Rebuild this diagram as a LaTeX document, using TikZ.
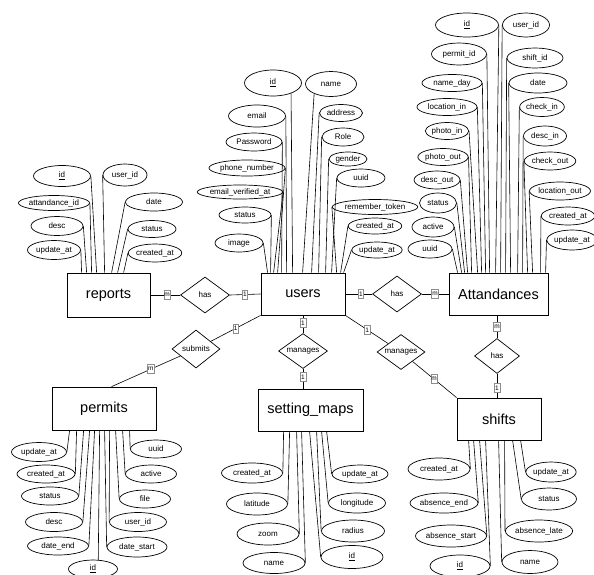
\documentclass[tikz,border=0pt]{standalone}
\usepackage{fontspec}
\setmainfont{Liberation Sans}
\usetikzlibrary{shapes.geometric}
\tikzset{
 attrib/.style={ellipse, draw, line width=0.7pt, inner sep=0pt, fill=white, font=\fontsize{8}{9}\selectfont},
 entity/.style={rectangle, draw, line width=0.8pt, inner sep=0pt, fill=white, font=\fontsize{14.5}{16}\selectfont},
 rel/.style={diamond, draw, line width=0.7pt, inner sep=0pt, shape aspect=1.4, fill=white, font=\fontsize{8}{9}\selectfont},
 conn/.style={line width=0.6pt},
 card/.style={draw=black!45, fill=white, line width=0.4pt, inner sep=0.6pt, minimum width=5.5pt, minimum height=9pt, font=\fontsize{6.5}{6.5}\selectfont}
}
\newcommand{\att}[6]{\node[attrib,minimum width=#4pt,minimum height=#5pt] (#1) at (#2,#3) {#6};}
\newcommand{\lk}[3]{\draw[conn] (#1) -- ([xshift=#3pt]#2);}
\begin{document}
\begin{tikzpicture}[x=1pt,y=-1pt]
\useasboundingbox (0,0) rectangle (594,574);
\clip (0,0) rectangle (594,574);
\fill[white] (0,0) rectangle (594,574);

% entities
\node[entity, minimum width=84pt, minimum height=42pt] (users) at (303,294) {users};
\node[entity, minimum width=83pt, minimum height=44pt] (reports) at (108.5,295) {reports};
\node[entity, minimum width=99pt, minimum height=42pt] (att) at (498.5,294) {Attandances};
\node[entity, minimum width=104pt, minimum height=43pt] (permits) at (104,408.5) {permits};
\node[entity, minimum width=105pt, minimum height=42pt] (maps) at (310.5,410) {setting\_maps};
\node[entity, minimum width=84pt, minimum height=42pt] (shifts) at (499,419) {shifts};

% relationships
\node[rel, minimum width=49pt, minimum height=36pt] (hasL) at (205,295) {has};
\node[rel, minimum width=49pt, minimum height=36pt] (hasR) at (397,294) {has};
\node[rel, minimum width=48pt, minimum height=38pt] (submits) at (196,349) {submits};
\node[rel, minimum width=49pt, minimum height=35pt] (man1) at (303,351) {manages};
\node[rel, minimum width=48pt, minimum height=35pt] (man2) at (401,352) {manages};
\node[rel, minimum width=45pt, minimum height=35pt] (hasV) at (497,356) {has};

% reports attributes
\att{r_id}{62}{176}{57}{21}{\underline{id}}
\att{r_att}{54}{203}{65}{15}{attandance\_id}
\att{r_desc}{57}{226}{52}{19}{desc}
\att{r_upd}{54}{250}{53}{19}{update\_at}
\att{r_uid}{125}{175}{44}{22}{user\_id}
\att{r_date}{154}{202}{57}{18}{date}
\att{r_status}{152}{229}{48}{17}{status}
\att{r_created}{155}{253}{51}{18}{created\_at}
\lk{r_id.east}{reports.north west}{30}
\lk{r_att.east}{reports.north west}{25}
\lk{r_desc.east}{reports.north west}{20}
\lk{r_upd.east}{reports.north west}{15}
\lk{r_uid.west}{reports.north west}{38}
\lk{r_date.west}{reports.north west}{45}
\lk{r_status.west}{reports.north west}{51}
\lk{r_created.west}{reports.north west}{57}

% users attributes
\att{u_id}{273}{83}{57}{26}{\underline{id}}
\att{u_email}{257}{116}{57}{22}{email}
\att{u_pass}{254}{142}{56}{18}{Password}
\att{u_phone}{247}{168}{64}{16}{phone\_number}
\att{u_ever}{240}{192}{73}{14}{email\_verified\_at}
\att{u_status}{245}{215}{52}{16}{status}
\att{u_image}{239}{243}{48}{18}{image}
\att{u_name}{331}{84}{51}{25}{name}
\att{u_addr}{341}{113}{43}{17}{address}
\att{u_role}{343}{137}{42}{18}{Role}
\att{u_gender}{348}{159}{38}{14}{gender}
\att{u_uuid}{361}{178}{48}{18}{uuid}
\att{u_rem}{375}{207}{67}{15}{remember\_token}
\att{u_created}{375}{226}{44}{16}{created\_at}
\att{u_update}{377}{250}{46}{16}{update\_at}
\lk{u_image.east}{users.north west}{7}
\lk{u_status.east}{users.north west}{10}
\lk{u_ever.east}{users.north west}{13}
\lk{u_phone.east}{users.north west}{17}
\lk{u_pass.east}{users.north west}{21}
\lk{u_email.east}{users.north west}{26}
\lk{u_id.-30}{users.north west}{32}
\lk{u_name.-150}{users.north west}{42}
\lk{u_addr.west}{users.north west}{51}
\lk{u_role.west}{users.north west}{58}
\lk{u_gender.west}{users.north west}{65}
\lk{u_uuid.west}{users.north west}{71}
\lk{u_rem.west}{users.north west}{76}
\lk{u_created.west}{users.north west}{80}
\lk{u_update.west}{users.north west}{83}

% Attandances attributes
\att{a_id}{467}{25}{63}{24}{\underline{id}}
\att{a_permit}{459}{54}{55}{22}{permit\_id}
\att{a_nameday}{452}{83}{60}{17}{name\_day}
\att{a_locin}{447}{107}{60}{17}{location\_in}
\att{a_photoin}{447}{131}{42}{17}{photo\_in}
\att{a_photoout}{443}{157}{42}{17}{photo\_out}
\att{a_descout}{437}{180}{41}{18}{desc\_out}
\att{a_status}{438}{203}{37}{20}{status}
\att{a_active}{433}{227}{42}{20}{active}
\att{a_uuid}{430}{249}{44}{18}{uuid}
\att{a_uid}{526}{25}{47}{24}{user\_id}
\att{a_shift}{535}{58}{56}{20}{shift\_id}
\att{a_date}{538}{83}{58}{20}{date}
\att{a_checkin}{542}{107}{43}{19}{check\_in}
\att{a_descin}{545}{136}{43}{20}{desc\_in}
\att{a_checkout}{550}{161}{42}{18}{check\_out}
\att{a_locout}{560}{191}{53}{18}{location\_out}
\att{a_created}{568}{216}{50}{18}{created\_at}
\att{a_update}{572}{240}{50}{20}{update\_at}
\lk{a_uuid.east}{att.north west}{9}
\lk{a_active.east}{att.north west}{13}
\lk{a_status.east}{att.north west}{16}
\lk{a_descout.east}{att.north west}{19}
\lk{a_photoout.east}{att.north west}{23}
\lk{a_photoin.east}{att.north west}{29}
\lk{a_locin.east}{att.north west}{33}
\lk{a_nameday.east}{att.north west}{37}
\lk{a_permit.east}{att.north west}{41}
\lk{a_id.east}{att.north west}{47}
\lk{a_uid.west}{att.north west}{52}
\lk{a_shift.west}{att.north west}{57}
\lk{a_date.west}{att.north west}{62}
\lk{a_checkin.west}{att.north west}{69}
\lk{a_descin.west}{att.north west}{74}
\lk{a_checkout.west}{att.north west}{79}
\lk{a_locout.west}{att.north west}{84}
\lk{a_created.west}{att.north west}{92}
\lk{a_update.west}{att.north west}{97}

% permits attributes
\att{p_upd}{39}{452}{55}{19}{update\_at}
\att{p_created}{46}{474}{58}{18}{created\_at}
\att{p_status}{50}{496}{57}{18}{status}
\att{p_desc}{54}{522}{57}{19}{desc}
\att{p_dateend}{58}{546}{61}{18}{date\_end}
\att{p_id}{93}{569}{49}{18}{\underline{id}}
\att{p_datestart}{137}{547}{60}{20}{date\_start}
\att{p_uid}{138}{522}{57}{19}{user\_id}
\att{p_file}{145}{499}{51}{18}{file}
\att{p_active}{151}{474}{51}{18}{active}
\att{p_uuid}{156}{449}{51}{18}{uuid}
\lk{p_upd.east}{permits.south west}{18}
\lk{p_created.east}{permits.south west}{25}
\lk{p_status.east}{permits.south west}{32}
\lk{p_desc.east}{permits.south west}{38}
\lk{p_dateend.east}{permits.south west}{43}
\lk{p_id.60}{permits.south west}{48}
\lk{p_datestart.west}{permits.south west}{53}
\lk{p_uid.west}{permits.south west}{58}
\lk{p_file.west}{permits.south west}{64}
\lk{p_active.west}{permits.south west}{71}
\lk{p_uuid.west}{permits.south west}{78}

% setting_maps attributes
\att{s_created}{252}{473}{61}{20}{created\_at}
\att{s_lat}{257}{504}{61}{22}{latitude}
\att{s_zoom}{268}{534}{62}{22}{zoom}
\att{s_name}{274}{563}{62}{21}{name}
\att{s_id}{352}{557}{62}{23}{\underline{id}}
\att{s_radius}{353}{531}{63}{22}{radius}
\att{s_long}{357}{503}{57}{20}{longitude}
\att{s_update}{360}{474}{56}{18}{update\_at}
\lk{s_created.east}{maps.south west}{26}
\lk{s_lat.east}{maps.south west}{32}
\lk{s_zoom.east}{maps.south west}{39}
\lk{s_name.east}{maps.south west}{44}
\lk{s_id.west}{maps.south west}{52}
\lk{s_radius.west}{maps.south west}{59}
\lk{s_long.west}{maps.south west}{64}
\lk{s_update.west}{maps.south west}{69}

% shifts attributes
\att{h_created}{439}{469}{62}{22}{created\_at}
\att{h_absend}{444}{503}{62}{20}{absence\_end}
\att{h_absstart}{451}{536}{61}{22}{absence\_start}
\att{h_id}{460}{566}{60}{22}{\underline{id}}
\att{h_name}{530}{562}{56}{23}{name}
\att{h_abslate}{539}{531}{56}{22}{absence\_late}
\att{h_status}{549}{499}{55}{22}{status}
\att{h_update}{551}{472}{48}{20}{update\_at}
\lk{h_created.east}{shifts.south west}{12}
\lk{h_absend.east}{shifts.south west}{17}
\lk{h_absstart.east}{shifts.south west}{23}
\lk{h_id.east}{shifts.south west}{29}
\lk{h_name.west}{shifts.south west}{42}
\lk{h_abslate.west}{shifts.south west}{48}
\lk{h_status.west}{shifts.south west}{56}
\lk{h_update.west}{shifts.south west}{64}

% relationship connectors
\draw[conn] (reports.east) -- (hasL.west) node[card,pos=0.56]{m};
\draw[conn] (hasL.east) -- (users.west) node[card,pos=0.49]{1};
\draw[conn] (users.east) -- (hasR.west) node[card,pos=0.58]{1};
\draw[conn] (hasR.east) -- (att.west) node[card,pos=0.49]{m};
\draw[conn] (hasV.north |- att.south) -- (hasV.north) node[card,pos=0.5]{m};
\draw[conn] (hasV.south) -- (hasV.south |- shifts.north) node[card,pos=0.59]{1};
\draw[conn] (users.south west) -- (submits) node[card,pos=0.5]{1};
\coordinate (pin) at ([xshift=60pt]permits.north west);
\draw[conn] (submits) -- (pin) node[card,pos=0.43]{m};
\draw[conn] (users.south) -- (man1.north) node[card,pos=0.43]{1};
\draw[conn] (man1.south) -- (man1.south |- maps.north) node[card,pos=0.41]{1};
\draw[conn] (users.south east) -- (man2) node[card,pos=0.51]{1};
\draw[conn] (man2) -- (shifts.north west) node[card,pos=0.49]{m};
\end{tikzpicture}
\end{document}
